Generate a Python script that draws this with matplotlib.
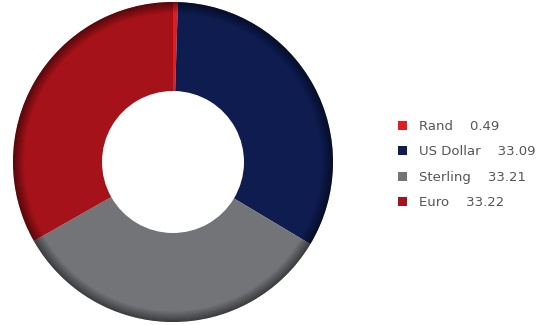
import matplotlib
matplotlib.use("Agg")
import matplotlib.pyplot as plt
from matplotlib.patches import Wedge, Patch

labels = ["Rand", "US Dollar", "Sterling", "Euro"]
values = [0.49, 33.09, 33.21, 33.22]
colors = ["#e01e22", "#0e1c50", "#737478", "#a51219"]

W, H = 550, 325
fig = plt.figure(figsize=(W / 100, H / 100), dpi=100)

# pie axes: centre (173, 162) px, radius 160 px
cx, cy, r = 173, 162, 160
ax = fig.add_axes([(cx - r) / W, (H - cy - r) / H, 2 * r / W, 2 * r / H])

hole = 71 / 160
wedges, _ = ax.pie(values, colors=colors, startangle=90, counterclock=False,
                   radius=1, wedgeprops=dict(width=1 - hole, linewidth=0))

# dark rim shading at the outer edge
n = 12
step = 0.07 / n
for i in range(n):
    r0 = 0.93 + i * step
    ax.add_patch(Wedge((0, 0), r0 + step, 0, 360, width=step,
                       facecolor="black", alpha=0.02 + 0.045 * i, linewidth=0))

ax.set_xlim(-1, 1)
ax.set_ylim(-1, 1)
ax.set_aspect("equal")
ax.axis("off")

handles = [Patch(facecolor=c, edgecolor="none") for c in colors]
texts = [f"{lab}    {v:.2f}" for lab, v in zip(labels, values)]
leg = fig.legend(handles, texts, loc="upper left",
                 bbox_to_anchor=(386 / W, 1 - 108 / H), frameon=False,
                 handlelength=0.7, handleheight=0.7, handletextpad=0.9,
                 labelspacing=0.95, prop={"family": "DejaVu Sans", "size": 9.5})
for t in leg.get_texts():
    t.set_color("#555555")

fig.savefig("out.png", dpi=100)
